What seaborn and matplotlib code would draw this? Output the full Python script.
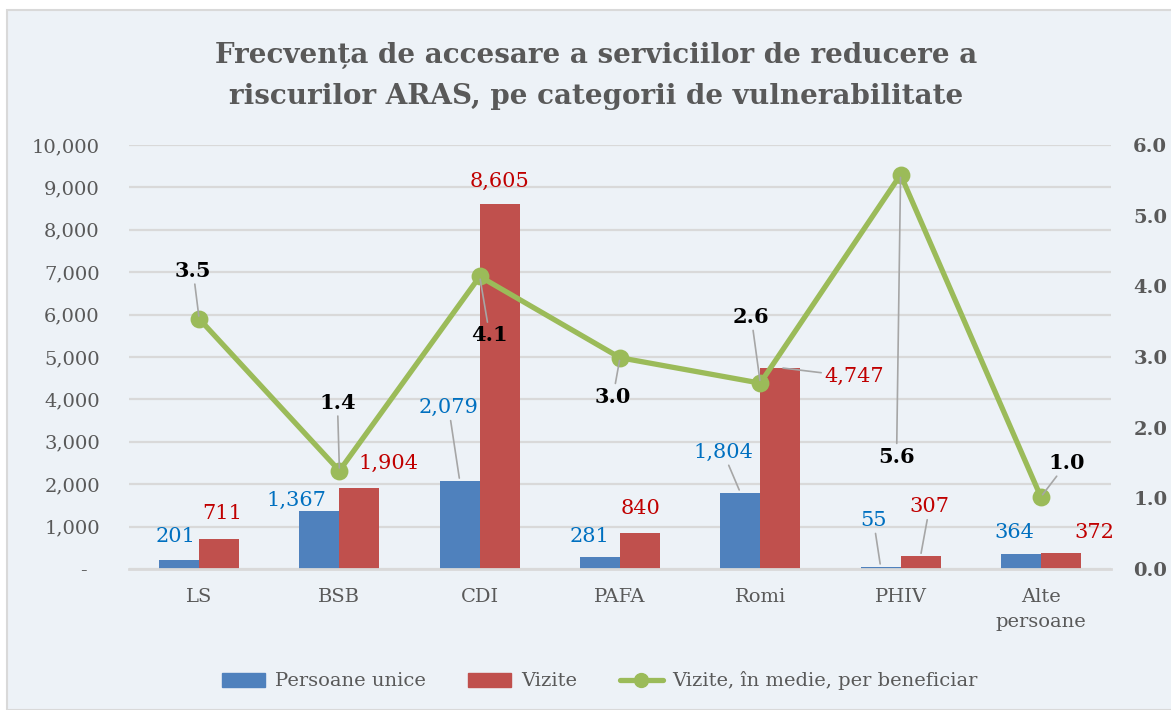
import numpy as np
import pandas as pd
import seaborn as sns
import matplotlib.pyplot as plt
from matplotlib.patches import Rectangle, Patch
from matplotlib.lines import Line2D

categorii = ["LS", "BSB", "CDI", "PAFA", "Romi", "PHIV", "Alte\npersoane"]
persoane_unice = [201, 1367, 2079, 281, 1804, 55, 364]
vizite = [711, 1904, 8605, 840, 4747, 307, 372]
vizite_medie = [3.54, 1.39, 4.14, 2.99, 2.63, 5.58, 1.02]

serii = ["Persoane unice", "Vizite"]
serie_linie = "Vizite, în medie, per beneficiar"

BLUE = "#4F81BD"
RED = "#C0504D"
GREEN = "#9BBB59"
GRID = "#D9D9D9"
TXT = "#595959"
BG = "#EDF2F7"

# label offsets in pixels (dx, dy, leader line?)
off_unice = [(-4, 24, 0), (-23, 11, 0), (-11, 73, 1), (-11, 21, 0),
             (-17, 40, 1), (-7, 46, 1), (-7, 21, 0)]
off_vizite = [(3, 25, 0), (29, 25, 0), (0, 23, 0), (1, 25, 0),
              (74, -9, 1), (9, 49, 1), (33, 21, 0)]
off_medie = [(-6, 48, 1), (-2, 68, 1), (10, -59, 1), (-7, -39, 1),
             (-9, 66, 1), (-4, -282, 1), (26, 34, 1)]

df = pd.DataFrame({
    "categorie": categorii * 2,
    "serie": [serii[0]] * len(categorii) + [serii[1]] * len(categorii),
    "valoare": persoane_unice + vizite,
})

sns.set_style("white")
plt.rcParams["font.family"] = ["DejaVu Serif"]

W, H = 1171, 710
fig = plt.figure(figsize=(W / 100, H / 100), dpi=100, facecolor="white")
fig.patches.append(Rectangle((7 / W, 0), 1, 1 - 10 / H, transform=fig.transFigure,
                             facecolor=BG, edgecolor=GRID, lw=1.5, zorder=-10))

ax = fig.add_axes([129 / W, 1 - 569 / H, (1111 - 129) / W, (569 - 145) / H])
ax.set_facecolor("none")

sns.barplot(data=df, x="categorie", y="valoare", hue="serie", order=categorii,
            hue_order=serii, palette=[BLUE, RED], width=0.57, gap=0,
            saturation=1, legend=False, linewidth=0, edgecolor="none",
            ax=ax, zorder=2)

ax2 = ax.twinx()
sns.pointplot(x=categorii, y=vizite_medie, order=categorii, color=GREEN,
              errorbar=None, markersize=10, linewidth=3.8, ax=ax2)

ax.set_ylim(0, 10000)
ax2.set_ylim(0, 6)
ax.set_xlim(-0.5, 6.5)
ax.set_yticks(np.arange(0, 10001, 1000))
ax.set_yticklabels(["-  "] + [f"{v:,}" for v in range(1000, 10001, 1000)])
ax2.set_yticks(np.arange(0, 6.01, 1))
ax2.set_yticklabels([f"{v:.1f}" for v in np.arange(0, 6.01, 1)])
ax.set_xticks(range(len(categorii)))
ax.set_xticklabels(categorii, linespacing=1.45)
ax.set_xlabel("")
ax.set_ylabel("")
ax2.set_ylabel("")

ax.grid(axis="y", color=GRID, lw=1.6, zorder=0)
ax.set_axisbelow(True)
for a in (ax, ax2):
    for s in a.spines.values():
        s.set_visible(False)
ax.spines["bottom"].set_visible(True)
ax.spines["bottom"].set_color(GRID)
ax.spines["bottom"].set_linewidth(2)

ax.tick_params(axis="y", length=0, pad=21, labelsize=14, labelcolor=TXT)
ax.tick_params(axis="x", length=0, pad=14, labelsize=14, labelcolor=TXT)
ax2.tick_params(axis="y", length=0, pad=16, labelsize=14, labelcolor=TXT)
for t in ax2.get_yticklabels():
    t.set_fontweight("bold")

leader = dict(arrowstyle="-", color="#A6A6A6", lw=1.2, shrinkA=0, shrinkB=2)


def label(axis, x, y, text, off, color, weight="normal"):
    dx, dy, line = off
    axis.annotate(text, xy=(x, y), xytext=(dx, dy), textcoords="offset pixels",
                  ha="center", va="center", fontsize=15, color=color,
                  fontweight=weight,
                  arrowprops=leader if line else None, zorder=5)


half = 0.57 / 4
for i in range(len(categorii)):
    label(ax2, i - half, persoane_unice[i] * 6 / 10000, f"{persoane_unice[i]:,}",
          off_unice[i], "#0070C0")
    label(ax2, i + half, vizite[i] * 6 / 10000, f"{vizite[i]:,}",
          off_vizite[i], "#C00000")
    label(ax2, i, vizite_medie[i], f"{vizite_medie[i]:.1f}",
          off_medie[i], "black", "bold")

fig.text(596 / W, 1 - 55 / H, "Frecvența de accesare a serviciilor de reducere a",
         ha="center", va="center", fontsize=20, fontweight="bold", color=TXT)
fig.text(596 / W, 1 - 97 / H, "riscurilor ARAS, pe categorii de vulnerabilitate",
         ha="center", va="center", fontsize=20, fontweight="bold", color=TXT)

handles = [Patch(color=BLUE), Patch(color=RED),
           Line2D([], [], color=GREEN, lw=3.8, marker="o", markersize=10)]
fig.legend(handles, serii + [serie_linie], loc="center", ncol=3,
           bbox_to_anchor=(600 / W, 1 - 681 / H), frameon=False,
           fontsize=14, labelcolor=TXT, handlelength=2.2, handleheight=0.7,
           handletextpad=0.5, columnspacing=2.2)

fig.savefig("out.png", dpi=100, facecolor="white")
